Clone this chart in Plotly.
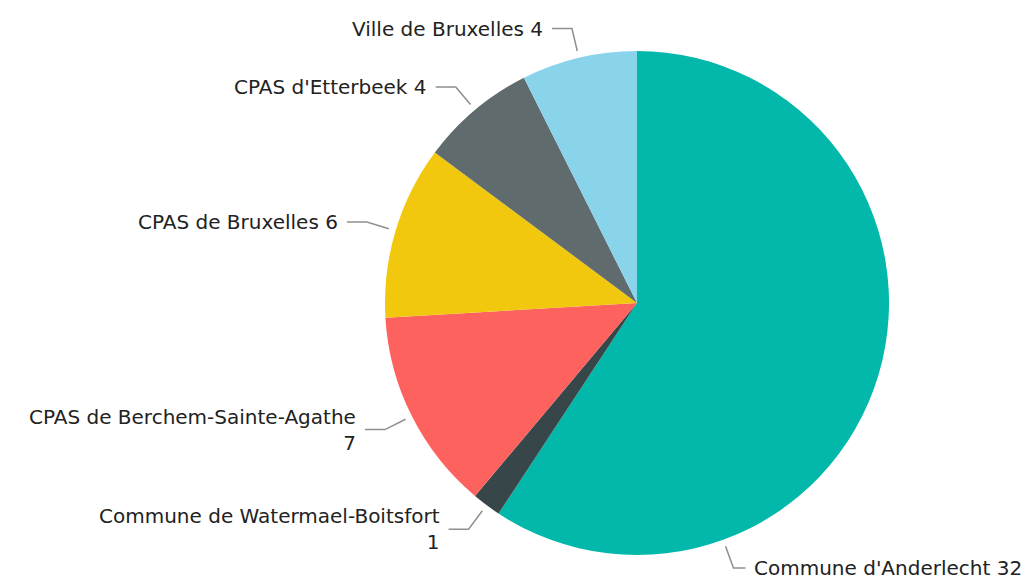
import math
import plotly.graph_objects as go

labels = ["Commune d'Anderlecht", "Commune de Watermael-Boitsfort", "CPAS de Berchem-Sainte-Agathe",
          "CPAS de Bruxelles", "CPAS d'Etterbeek", "Ville de Bruxelles"]
values = [32, 1, 7, 6, 4, 4]
label_text = ["Commune d'Anderlecht 32", "Commune de Watermael-Boitsfort<br>1",
              "CPAS de Berchem-Sainte-Agathe<br>7", "CPAS de Bruxelles 6",
              "CPAS d'Etterbeek 4", "Ville de Bruxelles 4"]
colors = ["#01B8AA", "#374649", "#FD625E", "#F2C80F", "#5F6B6D", "#8AD4EB"]
# position of leader anchor within each slice (0=start, 1=end)
anchor_frac = [0.75, 0.5, 0.5, 0.5, 0.5, 0.5]

W, H = 1032, 578
OFF = 8  # page body margin compensation
cx, cy, R = 637 - OFF, 303 - OFF, 252

fig = go.Figure()
fig.add_trace(go.Pie(
    labels=labels, values=values, sort=False, direction="clockwise", rotation=0,
    marker=dict(colors=colors, line=dict(width=0)), textinfo="none", hoverinfo="label+value",
    showlegend=False,
    domain=dict(x=[(cx - R) / W, (cx + R) / W], y=[1 - (cy + R) / H, 1 - (cy - R) / H]),
))

total = sum(values)
cum = 0
annotations = []
for v, txt, f in zip(values, label_text, anchor_frac):
    a = 2 * math.pi * (cum + f * v) / total
    cum += v
    s, c = math.sin(a), math.cos(a)
    r1, r2 = R + 7, R + 30
    x1, y1 = cx + r1 * s, cy - r1 * c
    x2, y2 = cx + r2 * s, cy - r2 * c
    side = 1 if s > 0 else -1
    hlen = 12 if side > 0 else 20
    x3 = x2 + side * hlen
    fig.add_trace(go.Scatter(x=[x1, x2, x3], y=[y1, y2, y2], mode="lines",
                             line=dict(color="#8f8f8f", width=1.5), hoverinfo="skip",
                             showlegend=False))
    annotations.append(dict(x=x3 + side * 7, y=y2, xref="x", yref="y", text=txt, showarrow=False,
                            xanchor="left" if side > 0 else "right", yanchor="middle",
                            align="left" if side > 0 else "right",
                            font=dict(family="DejaVu Sans", size=20, color="#222222")))

fig.update_layout(
    width=W, height=H, margin=dict(l=0, r=0, t=0, b=0),
    paper_bgcolor="white", plot_bgcolor="rgba(0,0,0,0)",
    xaxis=dict(range=[0, W], visible=False, fixedrange=True),
    yaxis=dict(range=[H, 0], visible=False, fixedrange=True),
    annotations=annotations,
)
fig.write_html("out.html")
